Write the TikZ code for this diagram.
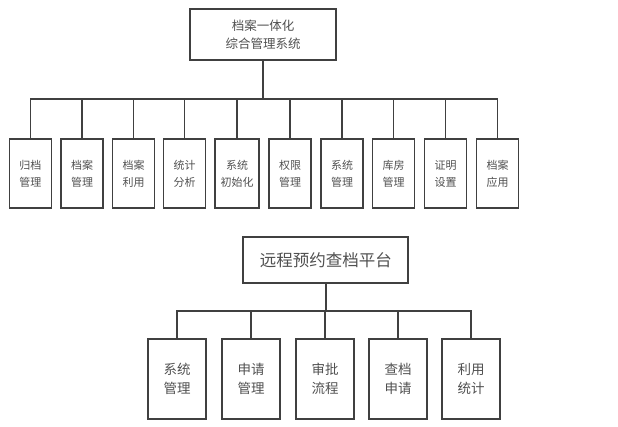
\documentclass[tikz,border=0pt]{standalone}
\usepackage{fontspec}
\setmainfont{Noto Sans CJK SC}
\definecolor{lnc}{HTML}{404040}
\definecolor{txc}{HTML}{505050}
\tikzset{
  box/.style={draw=lnc,line width=1.9pt,rectangle,inner sep=0pt,align=center,text=txc},
  topbox/.style={box,minimum width=146pt,minimum height=51pt,font=\fontsize{12.5}{18}\selectfont},
  leaf/.style={box,minimum width=42pt,minimum height=69pt,font=\fontsize{11}{17}\selectfont},
  topbox2/.style={box,minimum width=165pt,minimum height=46pt,font=\fontsize{16.5}{20}\selectfont},
  leaf2/.style={box,minimum width=58pt,minimum height=80pt,font=\fontsize{13.5}{19}\selectfont},
  link/.style={draw=lnc,line width=1.9pt}
}
\begin{document}
\begin{tikzpicture}[x=1pt,y=-1pt]
\useasboundingbox (0,0) rectangle (618,426);
\node[topbox] (t) at (263,34.5) {档案一体化\\综合管理系统};
\node[leaf] (a1) at (30.5,173.5) {归档\\管理};
\node[leaf] (a2) at (82,173.5) {档案\\管理};
\node[leaf] (a3) at (133.5,173.5) {档案\\利用};
\node[leaf] (a4) at (184.5,173.5) {统计\\分析};
\node[leaf,minimum width=44pt] (a5) at (237,173.5) {系统\\初始化};
\node[leaf] (a6) at (290,173.5) {权限\\管理};
\node[leaf] (a7) at (342,173.5) {系统\\管理};
\node[leaf] (a8) at (393.5,173.5) {库房\\管理};
\node[leaf] (a9) at (445.5,173.5) {证明\\设置};
\node[leaf] (a10) at (497.5,173.5) {档案\\应用};
\coordinate (bus1) at (263,99);
\draw[link] (t.south) -- (bus1);
\foreach \n in {a1,a2,a3,a4,a5,a6,a7,a8,a9,a10}{
  \draw[link] (bus1) -| (\n.north);
}
\node[topbox2] (s) at (325.8,260.3) {远程预约查档平台};
\node[leaf2] (b1) at (177,379) {系统\\管理};
\node[leaf2] (b2) at (251,379) {申请\\管理};
\node[leaf2] (b3) at (325,379) {审批\\流程};
\node[leaf2] (b4) at (398,379) {查档\\申请};
\node[leaf2] (b5) at (471,379) {利用\\统计};
\coordinate (bus2) at (325.8,311);
\draw[link] (s.south) -- (bus2);
\foreach \n in {b1,b2,b3,b4,b5}{
  \draw[link] (bus2) -| (\n.north);
}
\end{tikzpicture}
\end{document}
